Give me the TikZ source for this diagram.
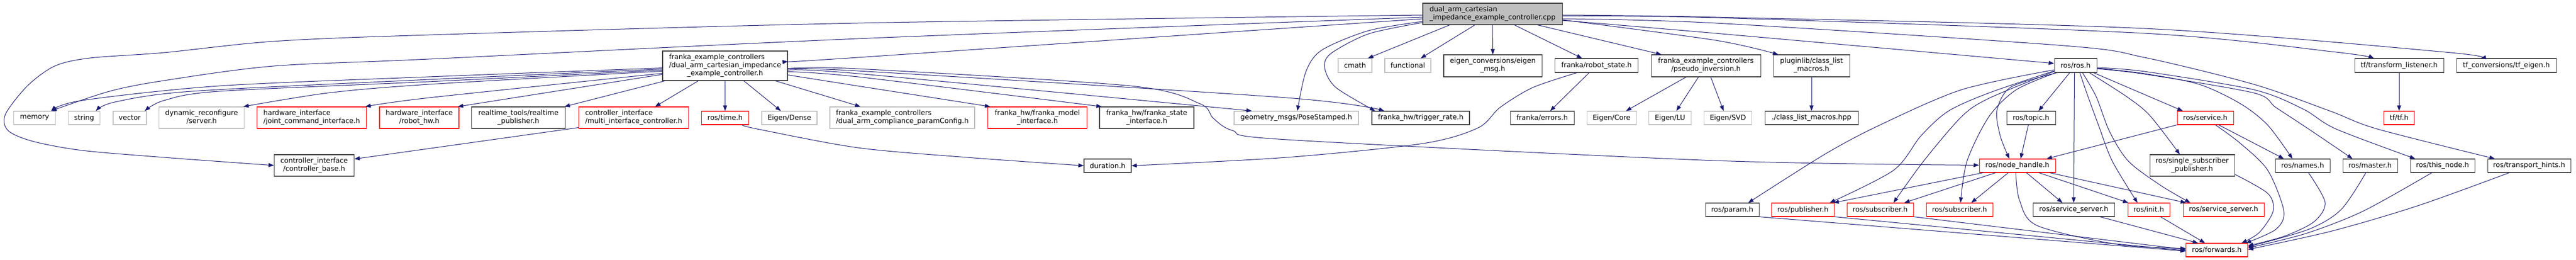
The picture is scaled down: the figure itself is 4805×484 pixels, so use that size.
\documentclass[tikz,border=0pt]{standalone}
\usepackage{fontspec}
\setmainfont{DejaVu Sans}
\usetikzlibrary{arrows.meta,calc}
\definecolor{greyext}{HTML}{BFBFBF}
\definecolor{navy}{HTML}{191970}
\definecolor{cppfill}{HTML}{BFBFBF}
\newcommand\twoline[2]{\begin{tabular}{@{}l@{}}#1\\\multicolumn{1}{@{}c@{}}{#2}\end{tabular}}
\newcommand\threeline[3]{\begin{tabular}{@{}l@{}}#1\\#2\\\multicolumn{1}{@{}c@{}}{#3}\end{tabular}}
\tikzset{
  box/.style={draw, rectangle, inner sep=0pt, line width=0.8pt, text=black,
              font=\fontsize{9.7}{11.25}\selectfont},
  ext/.style={box, draw=greyext},
  doc/.style={box, draw=black!75},
  trunc/.style={box, draw=red},
  boxw/.style={minimum width=#1*0.75pt},
  boxh/.style={minimum height=#1*0.75pt},
  edge/.style={draw=navy, line width=0.75pt, -{Triangle[length=7.5pt,width=5.5pt]}},
}
\begin{document}
\begin{tikzpicture}[x=0.75pt,y=-0.75pt]
\useasboundingbox (0,0) rectangle (4805,484);
% ---- rank 0
\node[doc, fill=cppfill, boxw=260, boxh=40] (cpp) at (2784,26) {\twoline{dual\_arm\_cartesian}{\_impedance\_example\_controller.cpp}};
% ---- rank 1
\node[doc, boxw=233, boxh=55] (H) at (1352.5,122.5) {\threeline{franka\_example\_controllers}{/dual\_arm\_cartesian\_impedance}{\_example\_controller.h}};
\node[ext, boxw=63, boxh=26] (cmath) at (2527.5,122) {cmath};
\node[ext, boxw=86, boxh=26] (functional) at (2626,122) {functional};
\node[doc, boxw=183, boxh=41] (eigenmsg) at (2784.5,122.5) {\twoline{eigen\_conversions/eigen}{\_msg.h}};
\node[doc, boxw=155, boxh=26] (robotstate) at (2978,122) {franka/robot\_state.h};
\node[doc, boxw=204, boxh=41] (pseudo) at (3182,122.5) {\twoline{franka\_example\_controllers}{/pseudo\_inversion.h}};
\node[doc, boxw=142, boxh=41] (pluginlib) at (3379,122.5) {\twoline{pluginlib/class\_list}{\_macros.h}};
\node[doc, boxw=79, boxh=26] (rosh) at (3871.5,122) {ros/ros.h};
\node[doc, boxw=166, boxh=26] (tflistener) at (4475,122) {tf/transform\_listener.h};
\node[doc, boxw=186, boxh=26] (tfconv) at (4675,122) {tf\_conversions/tf\_eigen.h};
% ---- rank 2
\node[ext, boxw=78, boxh=25] (memory) at (64.5,219.5) {memory};
\node[ext, boxw=59, boxh=25] (string) at (157,219.5) {string};
\node[ext, boxw=62, boxh=25] (vector) at (242,219.5) {vector};
\node[ext, boxw=159, boxh=40] (dynrec) at (376,219) {\twoline{dynamic\_reconfigure}{/server.h}};
\node[trunc, boxw=204, boxh=40] (jointcmd) at (581.5,219) {\twoline{hardware\_interface}{/joint\_command\_interface.h}};
\node[trunc, boxw=148, boxh=40] (robothw) at (782,219) {\twoline{hardware\_interface}{/robot\_hw.h}};
\node[doc, boxw=175, boxh=40] (rtpub) at (967,219) {\twoline{realtime\_tools/realtime}{\_publisher.h}};
\node[trunc, boxw=205, boxh=40] (multi) at (1182,219) {\twoline{controller\_interface}{/multi\_interface\_controller.h}};
\node[trunc, boxw=88, boxh=25] (rostime) at (1352.5,219.5) {ros/time.h};
\node[ext, boxw=103, boxh=25] (dense) at (1472.5,219.5) {Eigen/Dense};
\node[ext, boxw=270, boxh=40] (paramcfg) at (1683,219) {\twoline{franka\_example\_controllers}{/dual\_arm\_compliance\_paramConfig.h}};
\node[trunc, boxw=185, boxh=40] (fmodel) at (1935,219) {\twoline{franka\_hw/franka\_model}{\_interface.h}};
\node[doc, boxw=176, boxh=40] (fstate) at (2139,219) {\twoline{franka\_hw/franka\_state}{\_interface.h}};
\node[ext, boxw=232, boxh=25] (geom) at (2418,219.5) {geometry\_msgs/PoseStamped.h};
\node[doc, boxw=182, boxh=25] (trigger) at (2650,219.5) {franka\_hw/trigger\_rate.h};
\node[doc, boxw=119, boxh=25] (errors) at (2876.5,219.5) {franka/errors.h};
\node[ext, boxw=92, boxh=25] (core) at (3006,219.5) {Eigen/Core};
\node[ext, boxw=79, boxh=25] (lu) at (3115,219.5) {Eigen/LU};
\node[ext, boxw=89, boxh=25] (svd) at (3223,219.5) {Eigen/SVD};
\node[doc, boxw=174, boxh=25] (hpp) at (3379,219.5) {./class\_list\_macros.hpp};
\node[doc, boxw=91, boxh=25] (topic) at (3788.5,219.5) {ros/topic.h};
\node[trunc, boxw=105, boxh=25] (service) at (4113.5,219.5) {ros/service.h};
\node[trunc, boxw=57, boxh=25] (tftf) at (4475,219.5) {tf/tf.h};
% ---- rank 3
\node[doc, boxw=149, boxh=40] (ctrlbase) at (586,308) {\twoline{controller\_interface}{/controller\_base.h}};
\node[doc, boxw=88, boxh=25] (duration) at (2066,308.5) {duration.h};
\node[trunc, boxw=142, boxh=25] (nodehandle) at (3763,308.5) {ros/node\_handle.h};
\node[doc, boxw=158, boxh=40] (singlesub) at (4089,308) {\twoline{ros/single\_subscriber}{\_publisher.h}};
\node[doc, boxw=102, boxh=25] (names) at (4295,308.5) {ros/names.h};
\node[doc, boxw=102, boxh=25] (master) at (4421,308.5) {ros/master.h};
\node[doc, boxw=120, boxh=25] (thisnode) at (4556,308.5) {ros/this\_node.h};
\node[doc, boxw=155, boxh=25] (transport) at (4717.5,308.5) {ros/transport\_hints.h};
% ---- rank 4
\node[doc, boxw=100, boxh=25] (param) at (3231,390.5) {ros/param.h};
\node[trunc, boxw=117, boxh=25] (publisher) at (3363,390.5) {ros/publisher.h};
\node[trunc, boxw=124, boxh=25] (sub1) at (3507,390.5) {ros/subscriber.h};
\node[trunc, boxw=124, boxh=25] (sub2) at (3655,390.5) {ros/subscriber.h};
\node[doc, boxw=152, boxh=25] (ssrv1) at (3868,390.5) {ros/service\_server.h};
\node[trunc, boxw=78, boxh=25] (init) at (4008,390.5) {ros/init.h};
\node[trunc, boxw=151, boxh=25] (ssrv2) at (4147.5,390.5) {ros/service\_server.h};
% ---- rank 5
\node[trunc, boxw=115, boxh=25] (forwards) at (4135,465.5) {ros/forwards.h};

% ================= edges from cpp
\draw[edge] plot[smooth] coordinates {($(cpp.west)+(0,2)$) (1600,43) (800,65) (510,77) (306,98) (168,108) (102,123) (51,160) (10,213) (15,243) (61,263) (153,280) (306,293) (ctrlbase.west)};
\draw[edge] plot[smooth] coordinates {($(cpp.west)+(0,6)$) (1600,72) (800,110) (510,123) (306,150) (204,170) ($(memory.north)+(31,0)$)};
\draw[edge] plot[smooth] coordinates {($(cpp.west)+(0,9)$) (1600,107) ($(H.east)+(0,-8)$)};
\draw[edge] plot[smooth] coordinates {($(cpp.west)+(0,14)$) (2553,57) (2466,93) (2436,133) ($(geom.north)+(2,0)$)};
\draw[edge] plot[smooth] coordinates {($(cpp.west)+(0,16)$) (2553,63) (2482,100) (2471,127) (2492,163) ($(trigger.north)+(-85,0)$)};
\draw[edge] ($(cpp.south)+(-80,0)$) -- ($(cmath.north)+(24,0)$);
\draw[edge] ($(cpp.south)+(-33,0)$) -- ($(functional.north)+(24,0)$);
\draw[edge] (cpp.south) -- (eigenmsg.north);
\draw[edge] ($(cpp.south)+(41,0)$) -- ($(robotstate.north)+(-27,0)$);
\draw[edge] ($(cpp.south)+(84,0)$) -- ($(pseudo.north)+(-83,0)$);
\draw[edge] plot[smooth] coordinates {($(cpp.east)+(0,11)$) (3200,75) ($(pluginlib.north)+(-62,0)$)};
\draw[edge] plot[smooth] coordinates {($(cpp.east)+(0,12)$) (3200,62) ($(rosh.west)+(0,-4)$)};
\draw[edge] plot[smooth] coordinates {($(cpp.east)+(0,9)$) (3200,43) (3850,85) (4000,107) (4204,157) (4347,207) (4434,240) ($(transport.north)+(-64,0)$)};
\draw[edge] plot[smooth] coordinates {($(cpp.east)+(0,4)$) (3200,33) (4000,62) (4357,97) ($(tflistener.north)+(-47,0)$)};
\draw[edge] plot[smooth] coordinates {($(cpp.east)+(0,2)$) (3200,32) (4000,53) (4561,97) ($(tfconv.north)+(-48,0)$)};

% ================= edges from the controller header
\draw[edge] plot[smooth] coordinates {($(H.west)+(0,4)$) (800,143) (408,160) (153,187) ($(memory.north)+(31,0)$)};
\draw[edge] plot[smooth] coordinates {($(H.west)+(0,6)$) (800,148) (357,170) (214,190) ($(string.north)+(22,0)$)};
\draw[edge] plot[smooth] coordinates {($(H.west)+(0,8)$) (800,152) (408,170) (306,187) ($(vector.north)+(28,0)$)};
\draw[edge] plot[smooth] coordinates {($(H.west)+(0,10)$) (800,157) (612,173) ($(dynrec.north)+(78,0)$)};
\draw[edge] plot[smooth] coordinates {($(H.west)+(0,14)$) (800,182) ($(jointcmd.north)+(100,0)$)};
\draw[edge] ($(H.west)+(0,16)$) -- ($(robothw.north)+(72,0)$);
\draw[edge] ($(H.south west)+(5,0)$) -- ($(rtpub.north)+(86,0)$);
\draw[edge] ($(H.south)+(-50,0)$) -- ($(multi.north)+(40,0)$);
\draw[edge] (H.south) -- (rostime.north);
\draw[edge] ($(H.south)+(35,0)$) -- ($(dense.north)+(-16,0)$);
\draw[edge] ($(H.south)+(94,0)$) -- ($(paramcfg.north)+(-78,0)$);
\draw[edge] plot[smooth] coordinates {($(H.east)+(0,17)$) (1600,160) ($(fmodel.north)+(-88,0)$)};
\draw[edge] plot[smooth] coordinates {($(H.east)+(0,11)$) (1600,143) ($(fstate.north)+(-84,0)$)};
\draw[edge] plot[smooth] coordinates {($(H.east)+(0,8)$) (1600,137) ($(geom.north)+(-83,0)$)};
\draw[edge] plot[smooth] coordinates {($(H.east)+(0,6)$) (1600,132) (2400,182) ($(trigger.north)+(-68,0)$)};
\draw[edge] plot[smooth] coordinates {($(H.east)+(0,5)$) (1600,128) (2110,160) (2238,193) (2263,220) (2299,243) (2400,260) (3200,299) ($(nodehandle.west)+(0,-1)$)};

% ================= other edges
\draw[edge] ($(multi.south west)+(0,-2)$) -- ($(ctrlbase.east)+(0,-12)$);
\draw[edge] plot[smooth] coordinates {($(rostime.south)+(32,0)$) (1412,240) (1600,275) (1804,293) (duration.west)};
\draw[edge] plot[smooth] coordinates {($(robotstate.south)+(-37,0)$) (2859,163) (2798,200) (2757,238) (2655,267) (2400,293) (duration.east)};
\draw[edge] ($(robotstate.south)+(-14,0)$) -- ($(errors.north)+(15,0)$);
\draw[edge] ($(pseudo.south)+(-37,0)$) -- ($(core.north)+(27,0)$);
\draw[edge] ($(pseudo.south)+(-14,0)$) -- ($(lu.north)+(12,0)$);
\draw[edge] ($(pseudo.south)+(9,0)$) -- ($(svd.north)+(-8,0)$);
\draw[edge] (pluginlib.south) -- (hpp.north);
\draw[edge] (tflistener.south) -- (tftf.north);

% ================= ros/ros.h
\draw[edge] plot[smooth] coordinates {($(rosh.west)+(0,8)$) (3659,167) (3506,233) (3404,287) ($(param.north)+(30,0)$)};
\draw[edge] plot[smooth] coordinates {($(rosh.west)+(0,10)$) (3710,173) (3634,207) (3583,253) (3532,317) ($(publisher.north)+(50,0)$)};
\draw[edge] plot[smooth] coordinates {($(rosh.west)+(0,11)$) (3710,183) (3659,217) (3588,300) ($(sub1.north)+(25,0)$)};
\draw[edge] plot[smooth] coordinates {($(rosh.south west)+(3,0)$) (3761,167) (3710,217) (3669,300) ($(sub2.north)+(2,0)$)};
\draw[edge] plot[smooth] coordinates {($(rosh.south west)+(5,0)$) (3751,162) (3725,205) (3731,253) ($(nodehandle.north)+(-15,0)$)};
\draw[edge] ($(rosh.south)+(-11,0)$) -- ($(topic.north)+(14,0)$);
\draw[edge] ($(rosh.south)+(-2,0)$) -- (ssrv1.north);
\draw[edge] plot[smooth] coordinates {($(rosh.south)+(8,0)$) (3893,175) (3915,235) (3940,300) ($(init.north)+(-21,0)$)};
\draw[edge] plot[smooth] coordinates {($(rosh.south)+(13,0)$) (3910,180) (3935,245) (3970,300) (4030,345) ($(ssrv2.north)+(-62,0)$)};
\draw[edge] plot[smooth] coordinates {($(rosh.south)+(26,0)$) (3967,180) (4010,215) ($(singlesub.north)+(-23,0)$)};
\draw[edge] ($(rosh.south east)+(-6,0)$) -- ($(service.north)+(-42,0)$);
\draw[edge] plot[smooth] coordinates {($(rosh.east)+(0,5)$) (4000,137) (4102,157) (4179,193) (4230,233) ($(names.north)+(-19,0)$)};
\draw[edge] plot[smooth] coordinates {($(rosh.east)+(0,6)$) (4000,138) (4204,173) (4245,200) (4306,240) ($(master.north)+(-33,0)$)};
\draw[edge] plot[smooth] coordinates {($(rosh.east)+(0,4)$) (4000,133) (4204,167) (4296,203) (4357,240) ($(thisnode.north)+(-51,0)$)};

% ================= topic / service
\draw[edge] ($(topic.south)+(-5,0)$) -- ($(nodehandle.north)+(6,0)$);
\draw[edge] (service.south west) -- ($(nodehandle.north east)+(-17,0)$);
\draw[edge] ($(service.south)+(25,0)$) -- ($(names.north)+(-35,0)$);
\draw[edge] plot[smooth] coordinates {($(service.south)+(19,0)$) (4179,267) (4230,317) (4260,393) (4245,427) ($(forwards.north east)+(-4,0)$)};

% ================= ros/node_handle.h
\draw[edge] ($(nodehandle.south west)+(8,0)$) -- ($(publisher.north east)+(-2,0)$);
\draw[edge] ($(nodehandle.south west)+(31,0)$) -- ($(sub1.north)+(45,0)$);
\draw[edge] ($(nodehandle.south)+(-17,0)$) -- ($(sub2.north)+(22,0)$);
\draw[edge] plot[smooth] coordinates {($(nodehandle.south)+(-3,0)$) (3767,373) (3800,420) (3950,455) ($(forwards.west)+(0,-3)$)};
\draw[edge] ($(nodehandle.south)+(17,0)$) -- ($(ssrv1.north)+(-21,0)$);
\draw[edge] ($(nodehandle.south)+(40,0)$) -- ($(init.north)+(-38,0)$);
\draw[edge] ($(nodehandle.south)+(60,0)$) -- ($(ssrv2.north)+(-70,0)$);

% ================= into ros/forwards.h
\draw[edge] (param.south east) -- ($(forwards.west)+(0,2)$);
\draw[edge] (publisher.south east) -- ($(forwards.west)+(0,1)$);
\draw[edge] (sub1.south east) -- ($(forwards.west)+(0,-1)$);
\draw[edge] ($(ssrv1.south)+(49,0)$) -- ($(forwards.north)+(-35,0)$);
\draw[edge] ($(init.south)+(22,0)$) -- ($(forwards.north)+(-22,0)$);
\draw[edge] plot[smooth] coordinates {($(singlesub.south east)+(0,-4)$) (4230,360) (4240,393) (4214,433) ($(forwards.north east)+(-12,0)$)};
\draw[edge] plot[smooth] coordinates {($(names.south)+(11,0)$) (4337,377) (4316,413) (4260,440) ($(forwards.east)+(0,-8)$)};
\draw[edge] plot[smooth] coordinates {($(master.south)+(-8,0)$) (4367,390) (4306,427) ($(forwards.east)+(0,-6)$)};
\draw[edge] plot[smooth] coordinates {($(thisnode.south)+(-20,0)$) (4408,393) (4300,435) ($(forwards.east)+(0,-4)$)};
\draw[edge] plot[smooth] coordinates {($(transport.south)+(-37,0)$) (4510,383) (4350,430) ($(forwards.east)+(0,-1)$)};
\end{tikzpicture}
\end{document}
